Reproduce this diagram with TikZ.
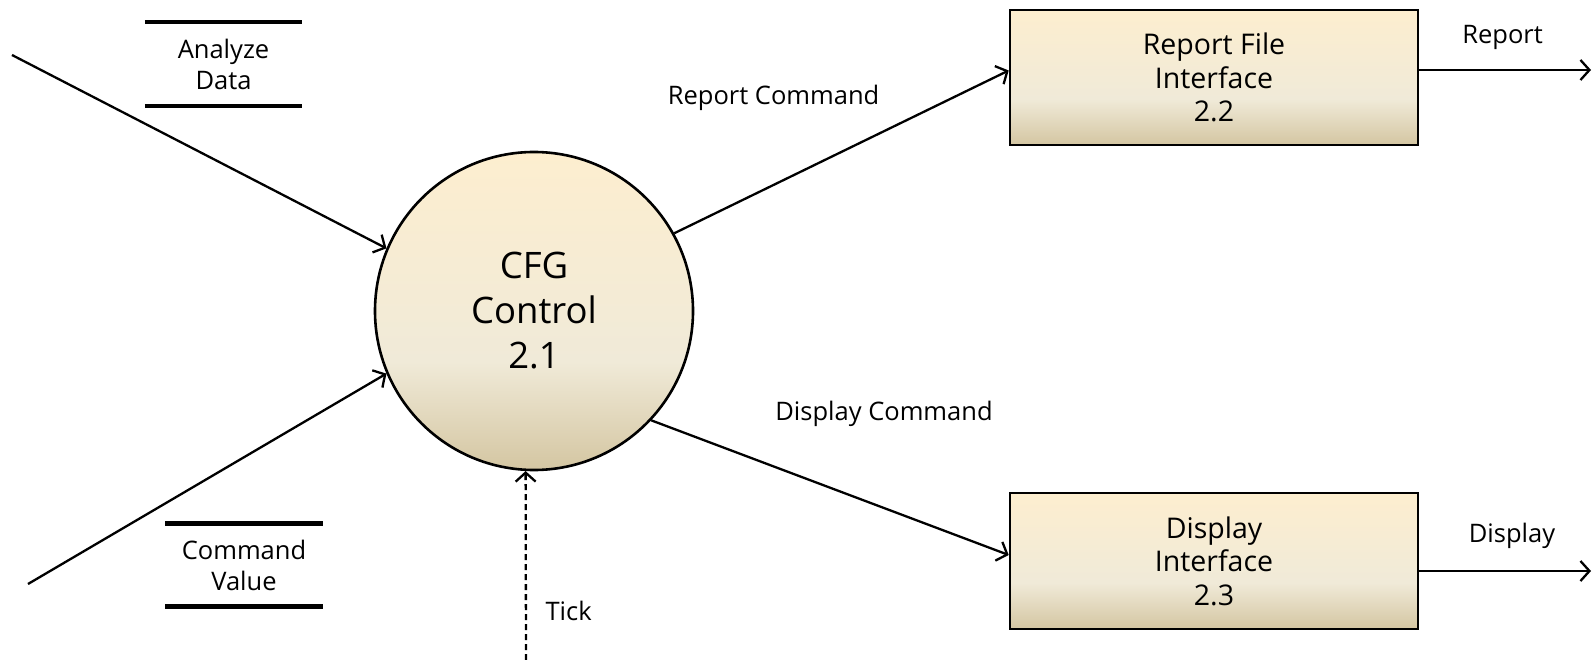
\documentclass[tikz,border=0pt]{standalone}
\usepackage{fontspec}
\setmainfont{Open Sans}
\usetikzlibrary{arrows.meta,calc}
\definecolor{cTop}{RGB}{253,238,207}
\definecolor{cMid}{RGB}{240,234,216}
\definecolor{cBot}{RGB}{212,198,162}
\pgfdeclareverticalshading{dfdshade}{100bp}{color(0bp)=(cBot); color(25bp)=(cBot); color(42bp)=(cMid); color(75bp)=(cTop); color(100bp)=(cTop)}
\begin{document}
\begin{tikzpicture}[x=1pt,y=-1pt,
  flow/.style={line width=2.3pt,-{Straight Barb[length=9pt,width=20pt,line width=2.3pt]}},
  proc/.style={draw,line width=2.6pt,shading=dfdshade,align=center,inner sep=0pt},
  boxtxt/.style={font=\fontsize{28.5}{33.5}\selectfont},
  lbl/.style={font=\fontsize{25.5}{31}\selectfont,align=center,inner sep=0pt},
  store/.style={lbl,minimum width=157pt},
  bar/.style={line width=4.8pt}
]
\useasboundingbox (0,0) rectangle (1592,660);

% process nodes
\node[proc,circle,minimum size=318pt,font=\fontsize{36.5}{45}\selectfont] (cfg) at (534,311) {CFG\\Control\\2.1};
\node[proc,rectangle,minimum width=408pt,minimum height=135pt,boxtxt] (rf) at (1214,77.5) {Report File\\Interface\\2.2};
\node[proc,rectangle,minimum width=408pt,minimum height=136pt,boxtxt] (di) at (1214,561) {Display\\Interface\\2.3};

% data stores
\node[store,minimum height=83.5pt] (ad) at (223.5,64) {Analyze\\Data};
\draw[bar] (ad.north west) -- (ad.north east);
\draw[bar] (ad.south west) -- (ad.south east);
\node[store,minimum height=82pt] (cv) at (244,565) {Command\\Value};
\draw[bar] (cv.north west) -- (cv.north east);
\draw[bar] (cv.south west) -- (cv.south east);

% free ends
\coordinate (in1) at (12,55);
\coordinate (in2) at (28,584);
\coordinate (tk) at (526,660);
\coordinate (rout) at (1591,70);
\coordinate (dout) at (1591,571);

% flows
\draw[flow] (in1) -- (cfg.157);
\draw[flow] (in2) -- (cfg.203);
\draw[flow,dashed,dash pattern=on 6pt off 4pt] (tk) -- (cfg.267);
\draw[flow] (cfg.29) -- ($(rf.west)+(0,-7)$);
\draw[flow] (cfg.-43) -- ($(di.west)+(0,-6)$);
\draw[flow] (rf.east |- rout) -- (rout);
\draw[flow] (di.east |- dout) -- (dout);

% labels
\node[lbl] (lrc) at (773.6,97.5) {Report Command};
\node[lbl] (ldc) at (884,414) {Display Command};
\node[lbl] (lr) at (1502.6,37.6) {Report};
\node[lbl] (ld) at (1512,536) {Display};
\node[lbl] (lt) at (568.6,611) {Tick};
\end{tikzpicture}
\end{document}
